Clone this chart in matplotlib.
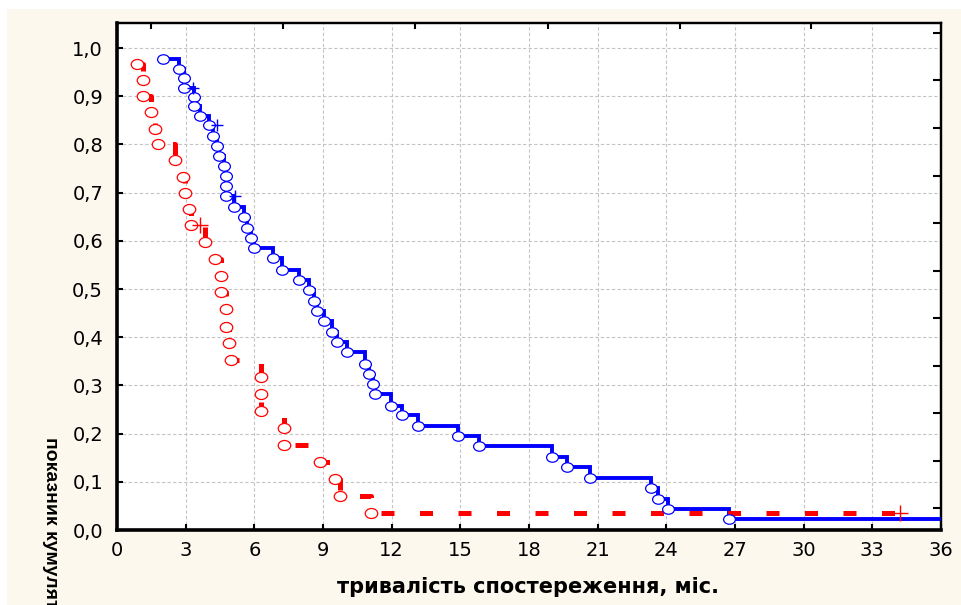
import matplotlib
matplotlib.use("Agg")
import matplotlib.pyplot as plt
from matplotlib.patches import Rectangle
from matplotlib.path import Path
from matplotlib.transforms import Affine2D
from matplotlib.ticker import FuncFormatter

# group 1 (blue): event times and cumulative survival after each event
blue_t = [2.0, 2.69, 2.91, 2.91, 3.35, 3.35, 3.64, 4.0, 4.2, 4.35, 4.45, 4.67,
          4.78, 4.78, 4.78, 5.1, 5.54, 5.69, 5.84, 5.98, 6.83, 7.19, 7.96, 8.4,
          8.62, 8.74, 9.06, 9.38, 9.61, 10.05, 10.84, 11.03, 11.18, 11.28, 11.95,
          12.45, 13.13, 14.9, 15.8, 19.02, 19.68, 20.67, 23.34, 23.65, 24.08, 26.75]
blue_s = [0.978, 0.957, 0.937, 0.917, 0.899, 0.880, 0.860, 0.840, 0.818, 0.797,
          0.777, 0.755, 0.734, 0.713, 0.692, 0.671, 0.650, 0.627, 0.606, 0.585,
          0.564, 0.540, 0.519, 0.497, 0.476, 0.455, 0.433, 0.411, 0.390, 0.369,
          0.345, 0.324, 0.302, 0.282, 0.258, 0.238, 0.215, 0.195, 0.174, 0.152,
          0.130, 0.108, 0.087, 0.065, 0.043, 0.022]
blue_cens_t = [3.3, 4.35, 5.15]
blue_cens_s = [0.917, 0.840, 0.692]
blue_end = 36

# group 2 (red)
red_t = [0.86, 1.13, 1.13, 1.48, 1.67, 1.81, 2.55, 2.88, 2.99, 3.13, 3.23, 3.86,
         4.30, 4.55, 4.55, 4.78, 4.78, 4.89, 5.0, 6.31, 6.31, 6.31, 7.30, 7.30,
         8.87, 9.53, 9.75, 11.08]
red_s = [0.967, 0.933, 0.900, 0.867, 0.833, 0.800, 0.767, 0.733, 0.700, 0.667,
         0.633, 0.598, 0.563, 0.528, 0.493, 0.458, 0.422, 0.387, 0.352, 0.317,
         0.282, 0.246, 0.211, 0.176, 0.141, 0.106, 0.070, 0.035]
red_cens_t = [3.62, 34.2]
red_cens_s = [0.633, 0.035]
red_end = 34.2

x_ticks = [0, 3, 6, 9, 12, 15, 18, 21, 24, 27, 30, 33, 36]
y_ticks = [0.0, 0.1, 0.2, 0.3, 0.4, 0.5, 0.6, 0.7, 0.8, 0.9, 1.0]
top_ticks = [1.47, 7.24, 13.03, 18.82, 24.58, 30.33]
right_ticks = [0.046, 0.143, 0.243, 0.340, 0.440, 0.537, 0.637, 0.734, 0.834, 0.934, 1.031]

plt.rcParams['font.family'] = ['DejaVu Sans']

# slightly flattened circle, like the stretched original
oval = Path.unit_circle().transformed(Affine2D().scale(1.25, 1.0))

fig = plt.figure(figsize=(9.61, 6.05), dpi=100, facecolor='white')
fig.patches.append(Rectangle((7 / 961, 0), 1, 1 - 9 / 605, transform=fig.transFigure,
                             facecolor='#fdf8ee', edgecolor='none', zorder=-10))
ax = fig.add_axes([117 / 961, 1 - 530 / 605, (941 - 117) / 961, (530 - 23) / 605])
ax.set_facecolor('white')

# blue: solid step line
ax.step(blue_t + [blue_end], blue_s + [blue_s[-1]], where='post', color='#0000ff',
        lw=2.8, zorder=3, solid_joinstyle='miter')
ax.plot(blue_t, blue_s, ls='none', marker=oval, ms=8.5, mfc='white', mec='#0000ff',
        mew=0.9, zorder=5)
ax.plot(blue_cens_t, blue_cens_s, '+', ms=9, color='#0000ff', mew=1, zorder=5)

# red: dashed step line
ax.step(red_t + [red_end], red_s + [red_s[-1]], where='post', color='#ff0000',
        lw=3.6, dashes=(2.6, 5.1), zorder=4)
ax.plot(red_t, red_s, ls='none', marker=oval, ms=9, mfc='white', mec='#ff0000',
        mew=0.9, zorder=6)
ax.plot(red_cens_t, red_cens_s, '+', ms=11, color='#ff0000', mew=1, zorder=6)

ax.set_xlim(0, 36)
ax.set_ylim(0, 1.052)
ax.set_xticks(x_ticks)
ax.set_yticks(y_ticks)
ax.yaxis.set_major_formatter(FuncFormatter(lambda v, p: f"{v:.1f}".replace('.', ',')))
ax.grid(True, color='#c4c4c4', ls=(0, (3, 2)), lw=0.8)
ax.set_axisbelow(True)
ax.tick_params(direction='in', length=4, width=1.5, labelsize=14, colors='black')
ax.tick_params(axis='y', pad=10)
ax.tick_params(axis='x', pad=8)

for side in ['left', 'bottom']:
    ax.spines[side].set_linewidth(2.6)
for side in ['top', 'right']:
    ax.spines[side].set_linewidth(1.6)

top = ax.secondary_xaxis('top')
top.set_xticks(top_ticks)
top.tick_params(direction='in', length=4, width=1.5, labeltop=False)
top.spines['top'].set_linewidth(1.6)
right = ax.secondary_yaxis('right')
right.set_yticks(right_ticks)
right.tick_params(direction='in', length=6, width=1.5, labelright=False)
right.spines['right'].set_linewidth(1.6)

fig.text(528 / 961, 1 - 587 / 605, 'тривалість спостереження, міс.', ha='center',
         va='center', fontsize=15, fontweight='bold')
fig.text(50 / 961, 1 - 437 / 605, 'показник кумулятивного виживання', rotation=-90,
         ha='center', va='top', fontsize=14, fontweight='bold',
         family=['Liberation Sans', 'DejaVu Sans'])

fig.savefig('out.png', dpi=100, facecolor=fig.get_facecolor())
